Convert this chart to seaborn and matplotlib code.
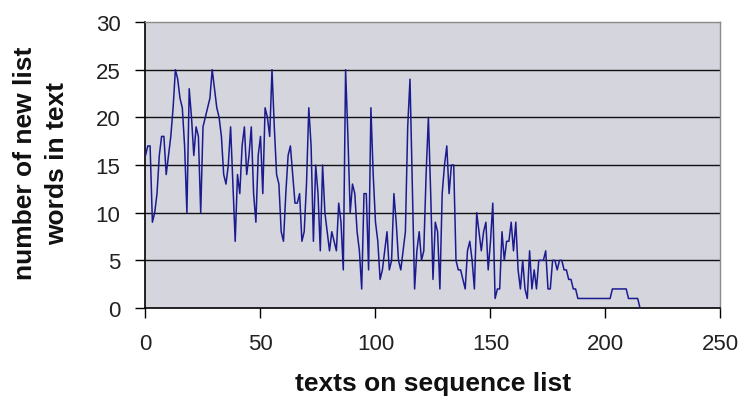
import numpy as np
import matplotlib
matplotlib.use("Agg")
import matplotlib.pyplot as plt
import seaborn as sns

# number of new list words found in each text
new_words = [
    16, 17, 17, 9, 10, 12, 16, 18, 18, 14,
    16, 18, 21, 25, 24, 22, 21, 17, 10, 23,
    20, 16, 19, 18, 10, 19, 20, 21, 22, 25,
    23, 21, 20, 18, 14, 13, 15, 19, 13, 7,
    14, 12, 17, 19, 14, 16, 19, 12, 9, 16,
    18, 12, 21, 20, 18, 25, 19, 14, 13, 8,
    7, 12, 16, 17, 14, 11, 11, 12, 7, 8,
    13, 21, 17, 7, 15, 12, 6, 15, 10, 8,
    6, 8, 7, 6, 11, 9, 4, 25, 18, 10,
    13, 12, 8, 6, 2, 12, 12, 4, 21, 14,
    9, 7, 3, 4, 6, 8, 4, 5, 12, 9,
    5, 4, 6, 8, 19, 24, 13, 2, 6, 8,
    5, 6, 14, 20, 12, 3, 9, 8, 2, 12,
    15, 17, 12, 15, 15, 5, 4, 4, 3, 2,
    6, 7, 5, 2, 10, 8, 6, 8, 9, 4,
    7, 11, 1, 2, 2, 8, 5, 7, 7, 9,
    6, 9, 4, 2, 5, 2, 1, 6, 2, 4,
    2, 5, 5, 5, 6, 2, 2, 5, 5, 4,
    5, 5, 4, 4, 3, 3, 2, 2,
    1, 1, 1, 1, 1, 1, 1, 1, 1, 1, 1, 1, 1, 1, 1,
    2, 2, 2, 2, 2, 2, 2,
    1, 1, 1, 1, 1,
    0,
]
text_pos = np.arange(len(new_words))

x_ticks = [0, 50, 100, 150, 200, 250]
y_ticks = [0, 5, 10, 15, 20, 25, 30]

sns.set_theme(style="white")
plt.rcParams["font.family"] = ["Liberation Sans", "DejaVu Sans"]

fig = plt.figure(figsize=(7.45, 4.02), dpi=100)
ax = fig.add_axes([0.1953, 0.2313, 0.7718, 0.7115])
ax.set_facecolor("#d4d5dd")

# black horizontal gridlines like the Excel chart
for v in y_ticks[1:-1]:
    ax.axhline(v, color="#111111", linewidth=1.0, zorder=1)

sns.lineplot(x=text_pos, y=new_words, ax=ax, color="#1b1b8f",
             linewidth=1.1, zorder=3)

ax.set_xlim(0, 250)
ax.set_ylim(0, 30)
ax.set_xticks(x_ticks)
ax.set_yticks(y_ticks)
ax.tick_params(axis="both", direction="out", length=7, width=1.0,
               color="black", labelsize=16, labelcolor="#222222", pad=11,
               bottom=True, left=True)

for side in ["left", "bottom"]:
    ax.spines[side].set_color("black")
    ax.spines[side].set_linewidth(1.2)
for side in ["top", "right"]:
    ax.spines[side].set_color("#8a8a8a")
    ax.spines[side].set_linewidth(1.0)

ax.set_xlabel("texts on sequence list", fontsize=19, fontweight="bold",
              color="#111111")
ax.set_ylabel("number of new list\nwords in text", fontsize=19,
              fontweight="bold", color="#111111", multialignment="center",
              linespacing=1.45)
ax.xaxis.set_label_coords(0.5, -0.262)
ax.xaxis.label.set_verticalalignment("center")
ax.yaxis.set_label_coords(-0.182, 0.51)
ax.yaxis.label.set_verticalalignment("center")

fig.savefig("out.png", dpi=100, facecolor="white")
